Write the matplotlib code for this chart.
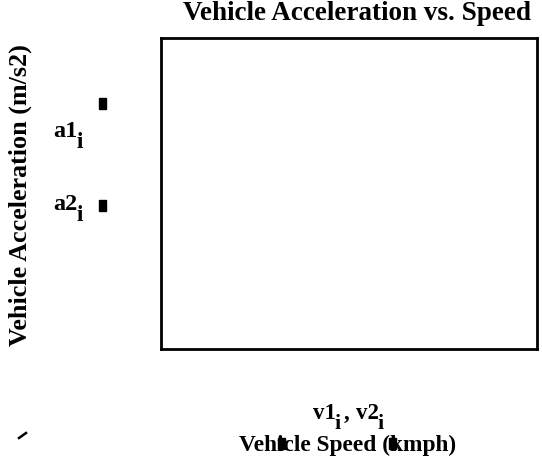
import matplotlib
matplotlib.use("Agg")
import matplotlib.pyplot as plt
from matplotlib.patches import Rectangle
from matplotlib.lines import Line2D

# ---- data (the reference plot shows no data points) ----
v1 = []
a1 = []
v2 = []
a2 = []
series_names = ["a1", "a2"]
x_names = ["v1", "v2"]
subscript = "i"
title = "Vehicle Acceleration vs. Speed"
xlabel = "Vehicle Speed (kmph)"
ylabel = "Vehicle Acceleration (m/s2)"

W, H = 542, 465
fig = plt.figure(figsize=(W / 100, H / 100), dpi=100)
FONT = "Liberation Serif"


def fx(x):
    return x / W


def fy(y):
    return 1 - y / H


ax = fig.add_axes([fx(161), fy(349), (537 - 161) / W, (349 - 38) / H])
ax.plot(v1, a1, color="black")
ax.plot(v2, a2, color="black")
ax.set_xlim(0, 1)
ax.set_ylim(0, 1)
ax.set_xticks([])
ax.set_yticks([])
for s in ax.spines.values():
    s.set_linewidth(2)
    s.set_color("black")

fig.text(fx(357), fy(13), title, fontsize=19.5, fontweight="bold",
         family=FONT, ha="center", va="center")
fig.text(fx(20), fy(195), ylabel, fontsize=18.8, fontweight="bold",
         family=FONT, ha="center", va="center", rotation=90)
fig.text(fx(348), fy(445), xlabel, fontsize=16.8, fontweight="bold",
         family=FONT, ha="center", va="center")


def sub_label(x, y_base, main, size, drop=11):
    t = fig.text(fx(x), fy(y_base), main, fontsize=size, fontweight="bold",
                 family=FONT, ha="left", va="baseline")
    fig.canvas.draw()
    bb = t.get_window_extent()
    s = fig.text((bb.x1 - 1) / W, fy(y_base + drop), subscript, fontsize=size * 0.95,
                 fontweight="bold", family=FONT, ha="left", va="baseline")
    fig.canvas.draw()
    return s.get_window_extent()


sub_label(53, 137, series_names[0], 17.5)
sub_label(53, 210, series_names[1], 17.5)

sb = sub_label(313, 419, x_names[0], 16.5, drop=10)
c = fig.text((sb.x1 + 3) / W, fy(419), ",", fontsize=16.5, fontweight="bold",
             family=FONT, ha="left", va="baseline")
fig.canvas.draw()
cb = c.get_window_extent()
sub_label(cb.x1 + 6, 419, x_names[1], 16.5, drop=10)

# small black marks
for (x, y) in [(99, 98), (99, 200), (278, 438), (389, 438)]:
    fig.patches.append(Rectangle((fx(x), fy(y + 11)), 7 / W, 11 / H,
                                 transform=fig.transFigure, color="black"))
fig.lines.append(Line2D([fx(19), fx(26)], [fy(438), fy(433)],
                        transform=fig.transFigure, color="black", lw=1.8))

fig.savefig("out.png", dpi=100)
